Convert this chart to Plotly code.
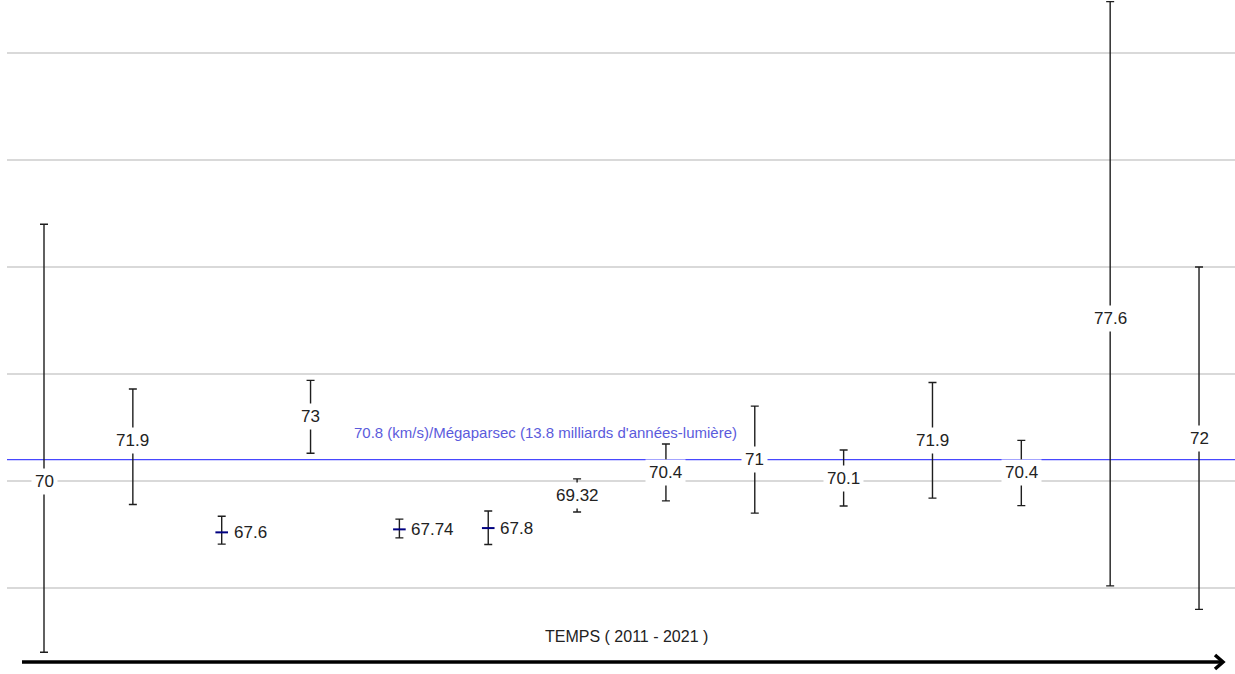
import plotly.graph_objects as go

# ---- data ----
values = [70, 71.9, 67.6, 73, 67.74, 67.8, 69.32, 70.4, 71, 70.1, 71.9, 70.4, 77.6, 72]
err_plus = [12.0, 2.4, 0.75, 1.7, 0.48, 0.8, 0.78, 1.33, 2.5, 1.35, 2.7, 1.5, 14.8, 8.0]
err_minus = [8.0, 3.0, 0.55, 1.7, 0.40, 0.77, 0.77, 1.33, 2.5, 1.27, 2.7, 1.55, 12.5, 8.0]
label_side = ["center", "center", "right", "center", "right", "right", "center",
              "center", "center", "center", "center", "center", "center", "center"]
ref_line_value = 71.0
ref_text = "70.8 (km/s)/Mégaparsec (13.8 milliards d'années-lumière)"
time_text = "TEMPS ( 2011 - 2021 )"

W, H = 1235, 674
ML = 7


def px(xp, yp):
    """pixel position -> paper coordinates (decorations only)"""
    return (xp - ML) / (W - ML), (H - yp) / H


x = list(range(len(values)))

fig = go.Figure()
fig.add_trace(go.Scatter(
    x=x, y=values, mode="markers",
    marker=dict(symbol="line-ew", size=9, color="#000080",
                line=dict(color="#000080", width=2)),
    error_y=dict(type="data", symmetric=False, array=err_plus, arrayminus=err_minus,
                 color="#1e1e1e", thickness=1.4, width=4),
    hoverinfo="skip", showlegend=False,
))

annotations = []
for xi, v, side in zip(x, values, label_side):
    a = dict(x=xi, y=v, xref="x", yref="y", text=f"{v:g}", showarrow=False,
             font=dict(family="Liberation Sans, Arial", size=17, color="#222222"),
             bgcolor="white", borderpad=3)
    if side == "right":
        a.update(xanchor="left", xshift=8)
    else:
        a.update(xanchor="center")
    annotations.append(a)

tx, ty = px(545.5, 0)
annotations.append(dict(x=tx, xref="paper", y=ref_line_value, yref="y", yanchor="bottom",
                        yshift=17, text=ref_text, showarrow=False,
                        font=dict(family="Liberation Sans, Arial", size=15, color="#5b5bdc")))
tx, ty = px(626.5, 636)
annotations.append(dict(x=tx, y=ty, xref="paper", yref="paper", text=time_text,
                        showarrow=False, xanchor="center", yanchor="middle",
                        font=dict(family="Liberation Sans, Arial", size=16, color="#222222")))

shapes = [
    dict(type="line", xref="paper", yref="y", x0=0, x1=1, y0=ref_line_value, y1=ref_line_value,
         line=dict(color="#4848ff", width=1.3), layer="between"),
]
a0 = px(22, 662)
a1 = px(1222, 662)
shapes.append(dict(type="line", xref="paper", yref="paper", x0=a0[0], y0=a0[1], x1=a1[0], y1=a1[1],
                   line=dict(color="black", width=3.5), layer="above"))
c1, c2, c3 = px(1215, 655), px(1223, 662), px(1215, 669)
shapes.append(dict(type="path", xref="paper", yref="paper",
                   path=f"M {c1[0]},{c1[1]} L {c2[0]},{c2[1]} L {c3[0]},{c3[1]}",
                   line=dict(color="black", width=3.5), layer="above"))

fig.update_layout(
    width=W, height=H,
    margin=dict(l=ML, r=0, t=0, b=0, pad=0),
    plot_bgcolor="white", paper_bgcolor="white",
    xaxis=dict(range=[-0.4165, 13.405], visible=False, fixedrange=True),
    yaxis=dict(range=[60.981, 92.477], tick0=0, dtick=5, showticklabels=False, ticks="",
               showgrid=True, gridcolor="#d9d9d9", gridwidth=2, zeroline=False,
               showline=False, fixedrange=True),
    annotations=annotations, shapes=shapes,
    showlegend=False,
)

fig.write_html("out.html", config={"displayModeBar": False},
               post_script="document.body.style.margin='0px';")
